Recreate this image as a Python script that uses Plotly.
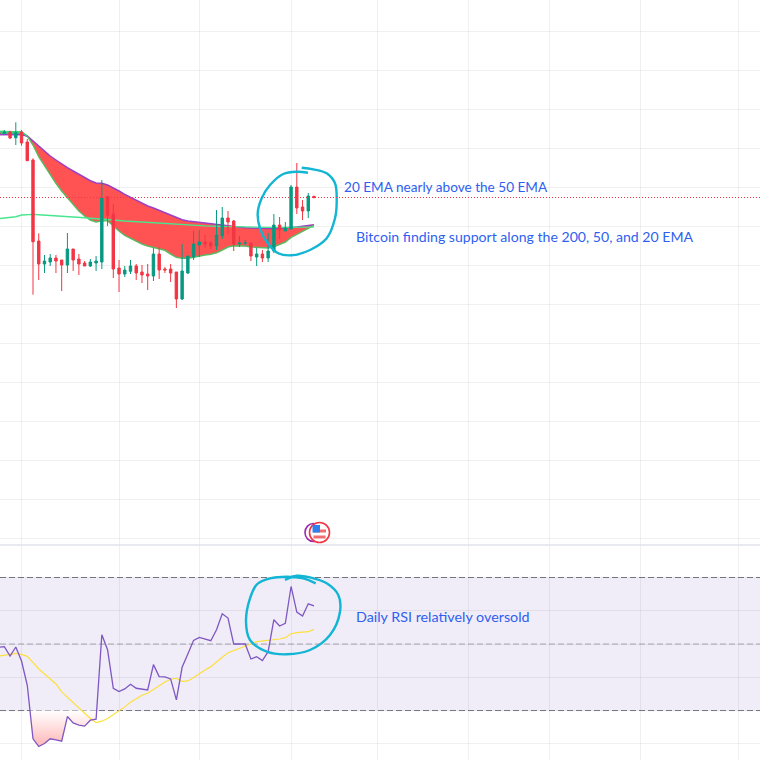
import numpy as np
import plotly.graph_objects as go

# Bar numbers, levels (the price scale runs downward in this pane)
bars = list(range(56))
opens = [132,133.3,132,137.7,132,142,160,241,264,262,258,260,265,249,259,263,266,263,262,196.7,214,268,274,271.3,266,272,274,276,254,269,269,272,299,273,257,245,242,243,246,236,218,221,244,243,243,257,254,258,251,225,231,229,187,207,211,196.3]
closes = [134,132,138,132.7,143,160.7,241.7,264,261,258,261,265,249,260,264,266,262,261,198,215.3,269,274,270,266,273,275,276,254,270,270,273,299,271,256,244,242,244,246,235,218,222,244,243,243,256,254,258,251,225,230,228,187,208,211,196,197.7]
highs = [131,130,130.7,122.3,130,139,158.3,233.3,255,254,255,260,233,249,254,261,259,256,180,196,204,260,266,260,264,265,264,248,247,267,264,272,244,256,231,230,235,241,210,207,211,220,236,240,243,248,250,233,214,217,222,185,163,200,193,196]
lows = [135,134,139,145,145.7,160.7,294.7,280,273,266,273,291,273,271,275,266,267,271,269,226,278,292,277,274,280,283,290,281,279,273,282,308,300,274,260,257,248,249,250,239,234,251,247,245,261,266,262,262,253,239,231,229.5,214,220,218,197.7]

ema_upper = [134.6,134.6,134.6,134.6,134.6,136,141,146,151.3,156,160,164.3,167.7,171,174.3,177.3,180.7,183,183.3,185,187.7,191,194.3,197.3,200.7,203.3,206,208,210.3,212.7,215.3,218,219.7,221,221.7,222.3,223,223.7,224.3,225.3,226,226.7,227.3,227.7,228,228.3,228.7,228.7,228.7,228.3,228,227.7,227,226.3,225.3,224.7]
ema_lower = [131.6,131.6,131.6,131.6,132,136,145,156.7,166,175,183.3,191,197.7,204.3,211,216,220,222,220.7,220.7,226,231,235.3,238.3,241.3,244,246,247.3,248.3,250.3,254,257.3,258.3,258.3,257.3,256,255,254.3,252.7,250,247,245.7,245.7,246,247,247.3,248,248,246.7,244.7,242,237.3,234.3,231,228,225.3]
ema_200 = [218.6,218,217.3,216.7,215,214.4,214.4,214.7,215,215.4,215.8,216.2,216.6,217,217.4,217.8,218.2,218.8,219.3,219.7,220.1,220.5,221,221.4,221.8,222.2,222.5,222.9,223.3,223.7,224.1,224.4,224.7,225,225.3,225.6,225.9,226.1,226.3,226.5,226.7,226.9,227,227.1,227.2,227.3,227.4,227.4,227.4,227.4,227.4,227.3,227.3,227.2,227.2,227.1]
cross_bar = 5

rsi = [49,49.2,46.4,49.1,44.9,37.6,21.5,19.2,20.1,21.5,21.2,20.8,28.2,26.3,25.6,25.3,27.1,27.4,52.8,48.3,36.7,35.7,36.5,37.9,36.7,36.5,36.2,43.8,40.2,40.1,39.5,33.2,43,47,51.1,52,51.6,51,54.3,59.1,57.8,50,50,50,45.5,46.2,45,47.7,57.3,55.4,56.2,67.3,59.6,58.4,62.1,61.5]
rsi_ma = [46.4,46.7,47,47.2,46.9,46.3,44.4,42.5,41,39.5,38,35.6,34,32.3,30.6,28.9,27.6,26.4,26.8,27.6,28.7,29.8,31.1,32.5,33.6,34.6,35.2,36.4,37.5,38.6,39.4,39.7,38.8,38.9,39.9,41.1,42.2,43.2,44.5,46,47.4,48,48.7,49.3,50,50.7,50.9,51,51.3,51.5,51.9,53.1,53.4,53.5,53.7,54.4]

last_price = 197.5
rsi_upper, rsi_mid, rsi_lower = 70, 50, 30
time_ticks = [4,21,35,51,66,82,96,112,129]
price_ticks = [31.5,70.6,109.7,148.5,187.5,226.5,265.5,304.5,343.5,382.5,421.5,460.5,499.5,538.5]
rsi_ticks = [20,30,40,50,60,70]

notes = [("20 EMA nearly above the 50 EMA",342,187,13.6),
         ("Bitcoin finding support along the 200, 50, and 20 EMA",354,236.5,14.1),
         ("Daily RSI relatively oversold",354,616.5,14.3)]
ring_top_x = [308,296.7,283.3,270,261.7,257.7,260,266.7,278.3,291.7,310,326.7,335,336.7,335,326.7,313.3,301.7]
ring_top_y = [172.7,171.7,174,185,198.3,213.3,228.3,241.7,253.3,255.3,250,238.3,218.3,200,183.3,173.3,169.3,167.7]
ring_rsi_x = [315.7,303.3,286.7,270,257.3,250,246,250,266.7,286.7,310,330,340,338.3,326.7,310,296.7,285]
ring_rsi_y = [583.3,578.3,576.7,578.3,584,598.3,621.7,640,651.7,654.3,650,635,611.7,595,583.3,577.3,575.7,580]

W = 760
PANE = 545 / W
RED, GREEN = "#F23645", "#089981"
BLUE_TXT = "#2f5ff0"
CYAN = "#12b5d3"
GRID = "rgba(42,46,57,0.07)"

fig = go.Figure()

# EMA cloud: red where the fast line is below, green on the flat stretch before the cross
fig.add_trace(go.Scatter(x=bars, y=ema_upper, mode="lines", line=dict(color="#9c3fc0", width=1.5)))
fig.add_trace(go.Scatter(x=bars, y=ema_lower, mode="lines", line=dict(color="#5cb860", width=1.5),
                         fill="tonexty", fillcolor="#ff5252"))
fig.add_trace(go.Scatter(x=bars[:cross_bar + 1], y=ema_upper[:cross_bar + 1], mode="lines",
                         line=dict(color="#9c3fc0", width=1.5)))
fig.add_trace(go.Scatter(x=bars[:cross_bar + 1], y=ema_lower[:cross_bar + 1], mode="lines",
                         line=dict(color="#3fd47f", width=1.5), fill="tonexty", fillcolor="#2bd47d"))
fig.add_trace(go.Scatter(x=bars, y=ema_200, mode="lines", line=dict(color="#48e68f", width=1.4)))

# candles sit on an axis overlaying the price axis so they draw above the cloud
fig.add_trace(go.Candlestick(x=bars, open=opens, high=highs, low=lows, close=closes, yaxis="y4",
                             increasing=dict(line=dict(color=RED, width=1), fillcolor=RED),
                             decreasing=dict(line=dict(color=GREEN, width=1), fillcolor=GREEN),
                             whiskerwidth=0))

# oversold shading
arr = np.array(rsi)
idx = [i for i, v in enumerate(rsi) if v < rsi_lower and 5 <= i <= 17]
a, b = idx[0], idx[-1]
x_in = a - 1 + (arr[a-1] - rsi_lower) / (arr[a-1] - arr[a])
x_out = b + (rsi_lower - arr[b]) / (arr[b+1] - arr[b])
fig.add_trace(go.Scatter(x=[x_in] + idx + [x_out], y=[rsi_lower] + [rsi[i] for i in idx] + [rsi_lower],
                         yaxis="y2", mode="none", fill="toself",
                         fillgradient=dict(type="vertical",
                                           colorscale=[[0, "#ffb4b4"], [1, "rgba(255,255,255,0.9)"]])))
fig.add_trace(go.Scatter(x=bars, y=rsi_ma, yaxis="y2", mode="lines", line=dict(color="#fde03c", width=1.2)))
fig.add_trace(go.Scatter(x=bars, y=rsi, yaxis="y2", mode="lines", line=dict(color="#7e57c2", width=1.3)))

# freehand rings on a screen-sized axis pair
for xs, ys in ((ring_top_x, ring_top_y), (ring_rsi_x, ring_rsi_y)):
    fig.add_trace(go.Scatter(x=xs, y=ys, xaxis="x3", yaxis="y3", mode="lines",
                             line=dict(color=CYAN, width=2.4, shape="spline", smoothing=1)))

shapes = [
    dict(type="rect", xref="paper", x0=0, x1=1, yref="y2", y0=rsi_lower, y1=rsi_upper,
         fillcolor="rgba(126,87,194,0.115)", line_width=0, layer="below"),
    dict(type="line", xref="paper", x0=0, x1=1, yref="y2", y0=rsi_upper, y1=rsi_upper,
         line=dict(color="#787b86", width=1, dash="6px,3px"), layer="below"),
    dict(type="line", xref="paper", x0=0, x1=1, yref="y2", y0=rsi_mid, y1=rsi_mid,
         line=dict(color="rgba(120,123,134,0.6)", width=1, dash="6px,3px"), layer="below"),
    dict(type="line", xref="paper", x0=0, x1=1, yref="y2", y0=rsi_lower, y1=rsi_lower,
         line=dict(color="#787b86", width=1, dash="6px,3px"), layer="below"),
    dict(type="line", xref="paper", x0=0, x1=1, yref="paper", y0=1 - PANE, y1=1 - PANE,
         line=dict(color="#e0e3eb", width=1.5)),
    dict(type="line", xref="paper", x0=0, x1=1, yref="y", y0=last_price, y1=last_price,
         line=dict(color=RED, width=1, dash="1px,2px"), layer="above"),
    # event marker
    dict(type="circle", xref="x3", yref="y3", x0=305, x1=322, y0=523.5, y1=541.5,
         fillcolor="white", line=dict(color="#9c27b0", width=1.6), layer="above"),
    dict(type="circle", xref="x3", yref="y3", x0=309.5, x1=329.5, y0=522.5, y1=542.5,
         fillcolor="white", line=dict(color=RED, width=1.6), layer="above"),
    dict(type="rect", xref="x3", yref="y3", x0=313, x1=326, y0=529.5, y1=532.5, fillcolor="#f26d6d", line_width=0, layer="above"),
    dict(type="rect", xref="x3", yref="y3", x0=313.5, x1=325.5, y0=535.5, y1=538.5, fillcolor="#f26d6d", line_width=0, layer="above"),
    dict(type="rect", xref="x3", yref="y3", x0=312.5, x1=320, y0=525, y1=532.5, fillcolor="#2f80ed", line_width=0, layer="above"),
]

annotations = [dict(text=t, xref="x3", yref="y3", x=x, y=y, xanchor="left", yanchor="middle", showarrow=False,
                    font=dict(family="Lato, Noto Sans, sans-serif", size=s, color=BLUE_TXT))
               for t, x, y, s in notes]

fig.update_layout(
    width=W, height=W, margin=dict(l=0, r=0, t=0, b=0), showlegend=False,
    paper_bgcolor="white", plot_bgcolor="rgba(0,0,0,0)", boxgap=0.4, shapes=shapes, annotations=annotations,
    xaxis=dict(range=[0.244, 132.77], tickvals=time_ticks, showticklabels=False, ticks="", showgrid=True,
               gridcolor=GRID, gridwidth=1, zeroline=False, rangeslider=dict(visible=False), anchor="y"),
    yaxis=dict(domain=[1 - PANE, 1], range=[545, 0], tickvals=price_ticks, showticklabels=False, ticks="",
               showgrid=True, gridcolor=GRID, zeroline=False),
    yaxis4=dict(overlaying="y", range=[545, 0], showticklabels=False, ticks="", showgrid=False, zeroline=False),
    yaxis2=dict(domain=[0, 1 - PANE], range=[15.13, 79.77], tickvals=rsi_ticks, showticklabels=False, ticks="",
                showgrid=True, gridcolor=GRID, zeroline=False, anchor="x"),
    xaxis3=dict(domain=[0, 1], range=[0, W], visible=False, anchor="y3"),
    yaxis3=dict(domain=[0, 1], range=[W, 0], visible=False, anchor="x3"),
)

fig.write_html("out.html", config={"displayModeBar": False}, post_script="document.body.style.margin='0';")
